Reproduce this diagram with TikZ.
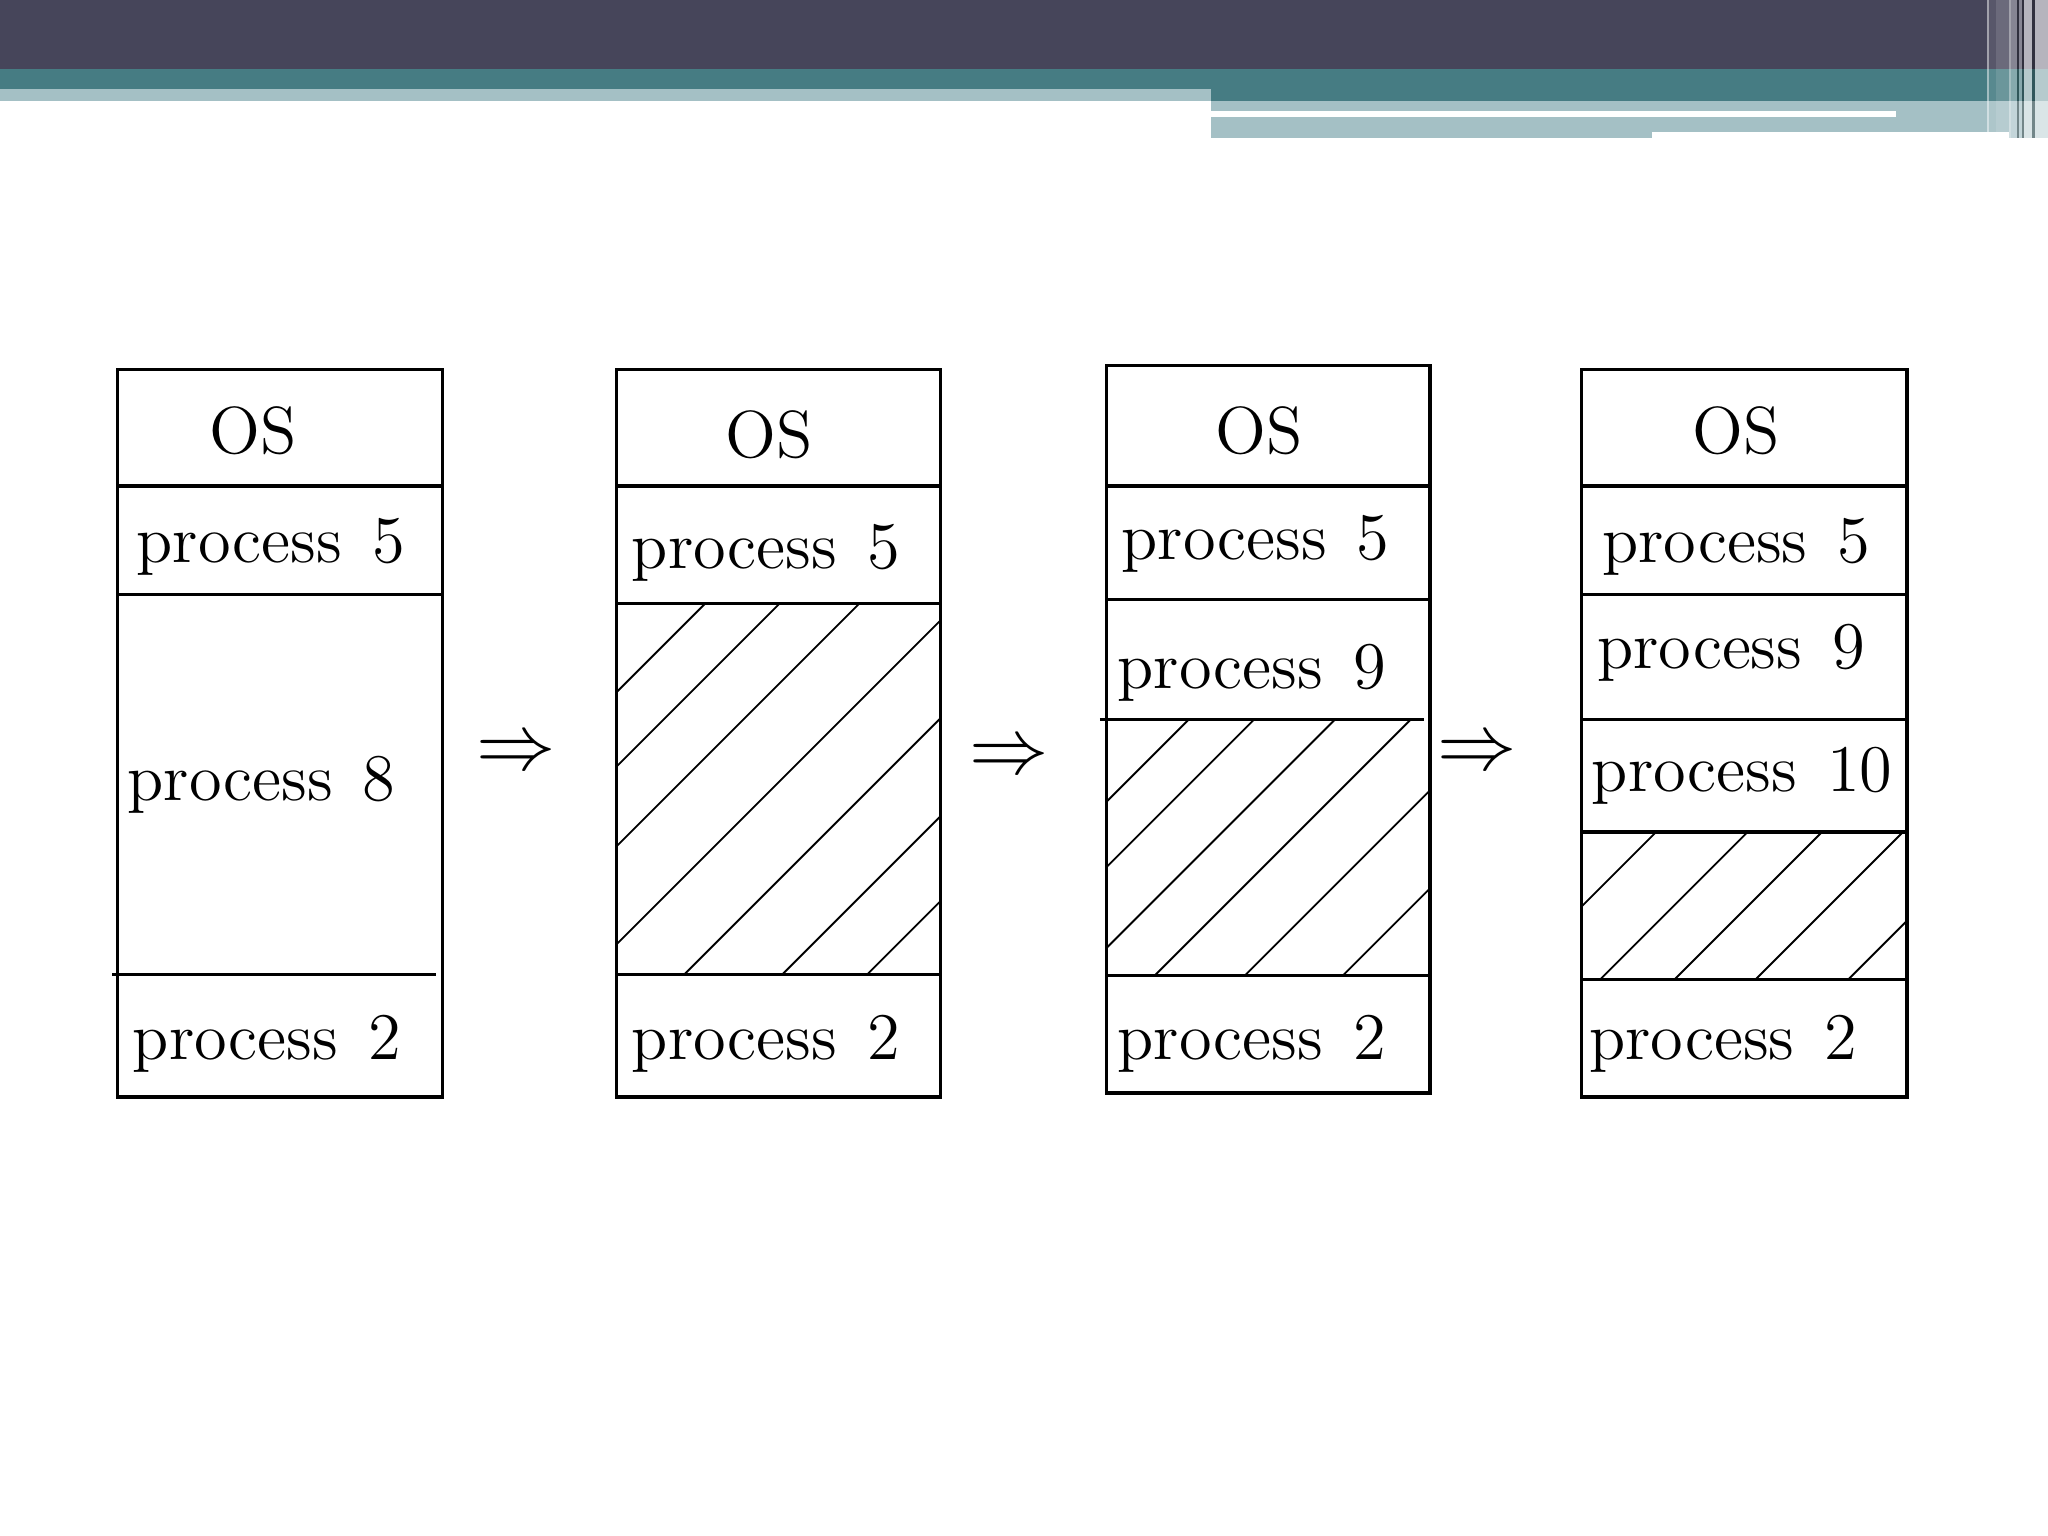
\documentclass[tikz,border=0pt]{standalone}
\usetikzlibrary{positioning}

\definecolor{bardark}{HTML}{46455A}
\definecolor{barteal}{HTML}{467C83}
\definecolor{barlight}{HTML}{A4C0C5}

\begin{document}
\begin{tikzpicture}[
    x=0.01cm, y=-0.01cm,
    font=\fontsize{14.5}{17}\selectfont,
    box/.style={draw, line width=0.75pt},
    split/.style={draw, line width=0.75pt},
    hatch/.style={line width=0.4pt},
    cell/.style={anchor=base west, inner sep=0pt},
    arrowsym/.style={inner sep=0pt, font=\fontsize{16.5}{18}\selectfont}
]
\useasboundingbox (0,0) rectangle (1568,1176);

% header bars
\fill[bardark] (0,0) rectangle (1568,53);
\fill[barteal] (0,53) rectangle (1568,77);
\fill[barlight] (0,68) rectangle (927,77);
\fill[barlight] (927,77) rectangle (1568,106);
\fill[white] (927,85) rectangle (1452,89.5);
% stripes on the right end
\fill[white, opacity=0.5] (1521.5,0) rectangle (1523,106);
\fill[white, opacity=0.1] (1523,0) rectangle (1528,106);
\fill[white, opacity=0.2] (1528,0) rectangle (1538,106);
\fill[white, opacity=0.5] (1538,0) rectangle (1540,106);
\fill[white, opacity=0.35] (1540,0) rectangle (1544,106);
\fill[black, opacity=0.3] (1544,0) rectangle (1545.5,106);
\fill[white, opacity=0.35] (1545.5,0) rectangle (1548,106);
\fill[black, opacity=0.3] (1548,0) rectangle (1549.5,106);
\fill[white, opacity=0.6] (1549.5,0) rectangle (1556,106);
\fill[black, opacity=0.3] (1556,0) rectangle (1558,106);
\fill[white, opacity=0.6] (1558,0) rectangle (1568,106);
\fill[white] (1265,101) rectangle (1538,106);

% 1) first memory map
\draw[box] (90,283) rectangle (339,840);
\draw[split] (90,372) -- (339,372);
\draw[split] (90,455) -- (339,455);
\draw[split] (86,746) -- (334,746);
\node[cell] (os1) at (160,347) {OS};
\node[cell] (p51) at (104,431) {process\hspace{0.45em}5};
\node[cell] (p81) at (97,613) {process\hspace{0.45em}8};
\node[cell] (p21) at (101,811) {process\hspace{0.45em}2};

\node[arrowsym] (arr1) at (395,578) {$\Rightarrow$};

% 2) process 8 gone
\draw[box] (472,283) rectangle (720,840);
\draw[split] (472,372) -- (720,372);
\draw[split] (472,462) -- (720,462);
\draw[split] (472,746) -- (720,746);
\begin{scope}
  \clip (472,462) rectangle (720,746);
  \foreach \c in {68,125,186,261,336,411,476}
    \draw[hatch] (472+\c,462) -- ++(-400,400);
\end{scope}
\node[cell] (os2) at (555,350) {OS};
\node[cell] (p52) at (483,435) {process\hspace{0.45em}5};
\node[cell] (p22) at (483,811) {process\hspace{0.45em}2};

\node[arrowsym] (arr2) at (773,581) {$\Rightarrow$};

% 3) process 9 loaded
\draw[box] (847,280) rectangle (1095,837);
\draw[split] (847,372) -- (1095,372);
\draw[split] (847,459) -- (1095,459);
\draw[split] (842,551) -- (1090,551);
\draw[split] (847,747) -- (1095,747);
\begin{scope}
  \clip (847,551) rectangle (1095,747);
  \foreach \c in {63,113,175,233,302,377}
    \draw[hatch] (847+\c,551) -- ++(-400,400);
\end{scope}
\node[cell] (os3) at (930,347) {OS};
\node[cell] (p53) at (858,428) {process\hspace{0.45em}5};
\node[cell] (p93) at (855,527) {process\hspace{0.45em}9};
\node[cell] (p23) at (855,811) {process\hspace{0.45em}2};

\node[arrowsym] (arr3) at (1131,578) {$\Rightarrow$};

% 4) process 10 loaded
\draw[box] (1211,283) rectangle (1460,840);
\draw[split] (1211,372) -- (1460,372);
\draw[split] (1211,455) -- (1460,455);
\draw[split] (1211,551) -- (1460,551);
\draw[split] (1211,637) -- (1460,637);
\draw[split] (1211,750) -- (1460,750);
\begin{scope}
  \clip (1211,637) rectangle (1460,750);
  \foreach \c in {57,127,184,246,317}
    \draw[hatch] (1211+\c,637) -- ++(-400,400);
\end{scope}
\node[cell] (os4) at (1295,347) {OS};
\node[cell] (p54) at (1226,431) {process\hspace{0.45em}5};
\node[cell] (p94) at (1222,512) {process\hspace{0.45em}9};
\node[cell] (p104) at (1218,606) {process\hspace{0.45em}10};
\node[cell] (p24) at (1216,811) {process\hspace{0.45em}2};
\end{tikzpicture}
\end{document}
